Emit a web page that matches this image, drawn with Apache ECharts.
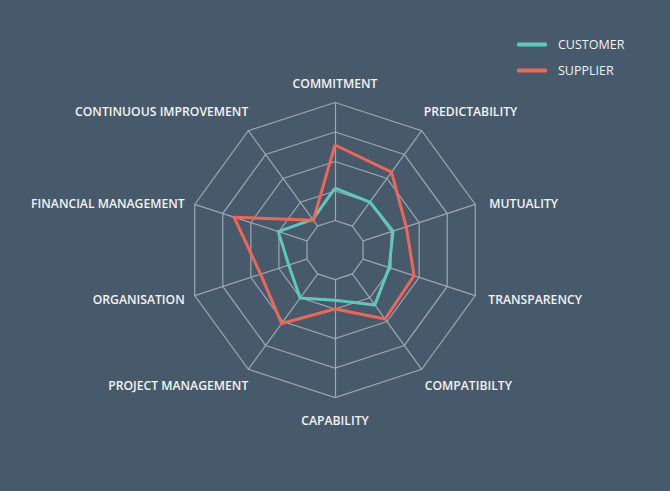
<!DOCTYPE html>
<html>
<head>
<meta charset="utf-8">
<script src="https://cdn.jsdelivr.net/npm/echarts@6/dist/echarts.min.js"></script>
<style>
  html, body { margin: 0; padding: 0; background: #475a6b; }
  #chart { width: 670px; height: 491px; }
</style>
</head>
<body>
<div id="chart"></div>
<script>
// indicators listed counterclockwise from the top (ECharts order)
var indicatorNames = ['COMMITMENT', 'CONTINUOUS IMPROVEMENT', 'FINANCIAL MANAGEMENT', 'ORGANISATION',
  'PROJECT MANAGEMENT', 'CAPABILITY', 'COMPATIBILTY', 'TRANSPARENCY', 'MUTUALITY', 'PREDICTABILITY'];
var customerValues = [2.1, 1.28, 2.02, 1.65, 2.01, 1.7, 2.3, 1.93, 2.07, 2.01];
var supplierValues = [3.56, 1.25, 3.6, 2.65, 3.08, 2.0, 2.89, 2.82, 2.54, 3.26];
var scaleMin = 1;
var scaleMax = 5;

(function() {
  var ink = '#f3f3f3';
  var grid = '#9ea7b0';
  var teal = '#5ec8be';
  var red = '#f06656';

  var chart = echarts.init(document.getElementById('chart'), null, { renderer: 'svg' });

  // pick a label style from the axis direction so names sit like the original
  function nameKey(name) {
    var i = indicatorNames.indexOf(name);
    var a = (90 + 360 * i / indicatorNames.length) * Math.PI / 180;
    var c = Math.cos(a), s = Math.sin(a);
    if (Math.abs(c) < 0.01) return s > 0 ? 'top' : 'bot';
    var side = c > 0 ? 'R' : 'L';
    if (Math.abs(s) > 0.7) return (s > 0 ? 'dUp' : 'dDn') + side;
    return (s > 0 ? 'mUp' : 'mDn') + side;
  }
  var base = { color: ink, fontFamily: 'Open Sans', fontWeight: 600, fontSize: 12.2 };
  function rs(pad) { return Object.assign({ padding: pad }, base); }

  chart.setOption({
    animation: false,
    backgroundColor: '#475a6b',
    legend: {
      orient: 'vertical',
      left: 517,
      top: 38,
      padding: 0,
      itemWidth: 30,
      itemHeight: 4,
      itemGap: 13,
      icon: 'roundRect',
      textStyle: { color: ink, fontFamily: 'Open Sans', fontSize: 12.5, padding: [0, 0, 0, 6] },
      data: ['CUSTOMER', 'SUPPLIER']
    },
    radar: {
      center: [335, 250],
      radius: [29.5, 147.5],
      startAngle: 90,
      shape: 'polygon',
      splitNumber: 4,
      nameGap: 0,
      indicator: indicatorNames.map(function(n) { return { name: n, min: scaleMin, max: scaleMax }; }),
      axisName: {
        formatter: function(name) { return '{' + nameKey(name) + '|' + name + '}'; },
        rich: {
          top: rs([0, 0, 13, 0]),
          bot: rs([17, 0, 0, 0]),
          dUpR: rs([0, 0, 38, 2]),
          dUpL: rs([0, 0, 38, 0]),
          dDnR: rs([33, 0, 0, 3]),
          dDnL: rs([33, 0, 0, 0]),
          mUpR: rs([0, 0, 2, 14]),
          mUpL: rs([0, 10, 2, 0]),
          mDnR: rs([8, 0, 0, 13]),
          mDnL: rs([8, 10, 0, 0])
        }
      },
      axisLine: { lineStyle: { color: grid, width: 1.2 } },
      splitLine: { lineStyle: { color: grid, width: 1.2 } },
      splitArea: { show: false }
    },
    series: [{
      type: 'radar',
      symbol: 'none',
      data: [
        { name: 'CUSTOMER', value: customerValues, itemStyle: { color: teal }, lineStyle: { color: teal, width: 3 } },
        { name: 'SUPPLIER', value: supplierValues, itemStyle: { color: red }, lineStyle: { color: red, width: 3 } }
      ]
    }]
  });
  window.addEventListener('resize', function() { chart.resize(); });
})();
</script>
</body>
</html>
